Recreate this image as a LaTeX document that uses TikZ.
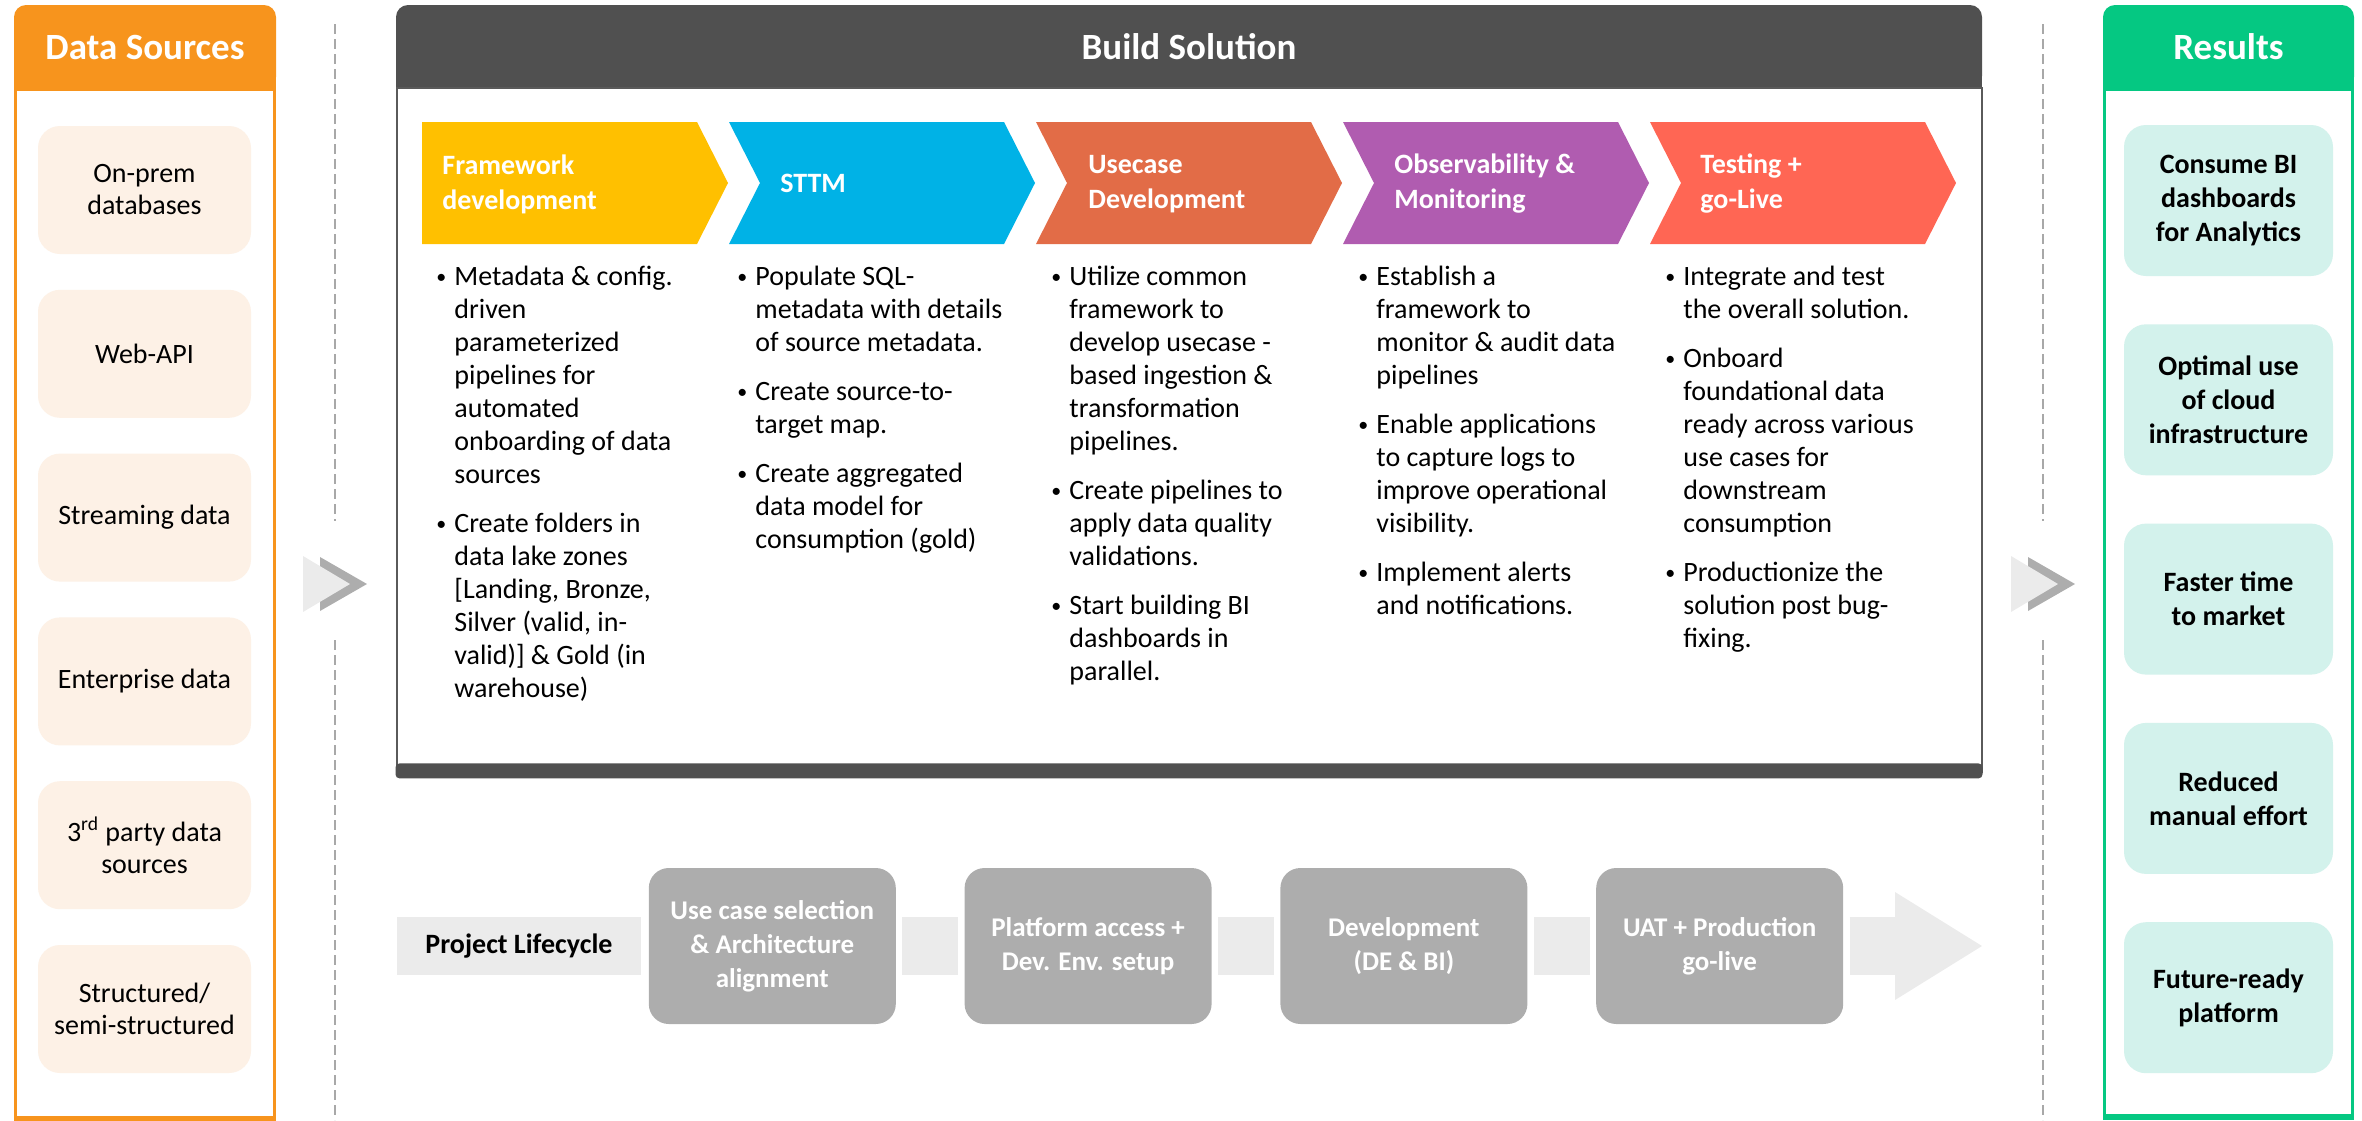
\documentclass[tikz,border=0pt]{standalone}
\usepackage{fontspec}
\setmainfont{Carlito}
\usetikzlibrary{positioning, arrows.meta, backgrounds}

\definecolor{dsorange}{HTML}{F7941D}
\definecolor{resgreen}{HTML}{05C882}
\definecolor{srcfill}{HTML}{FDF1E6}
\definecolor{resfill}{HTML}{D3F2EC}
\definecolor{hdgrey}{HTML}{505050}
\definecolor{framegrey}{HTML}{5A5A5A}
\definecolor{stepA}{HTML}{FFC000}
\definecolor{stepB}{HTML}{00B2E6}
\definecolor{stepC}{HTML}{E26C47}
\definecolor{stepD}{HTML}{B05CB0}
\definecolor{stepE}{HTML}{FF6654}
\definecolor{lifegrey}{HTML}{ADADAD}
\definecolor{lifebar}{HTML}{EBEBEB}
\definecolor{sepgrey}{HTML}{A8A8A8}

\newcommand{\bul}{\makebox[9pt][l]{\raisebox{0.6pt}{\fontsize{10pt}{10pt}\selectfont\textbullet}}}

\tikzset{
    panelhead/.style = {rectangle, rounded corners=6pt, text=white, inner sep=0pt, font=\fontsize{18.5pt}{21pt}\selectfont\bfseries},
    panelbody/.style = {rectangle, draw, fill=white, line width=1.5pt, inner sep=0pt},
    srcbox/.style = {rectangle, fill=srcfill, rounded corners=11pt, minimum width=106.5pt, minimum height=64pt, align=center, inner sep=0pt, font=\fontsize{14pt}{16pt}\selectfont},
    resbox/.style = {rectangle, fill=resfill, rounded corners=11pt, minimum width=104.5pt, minimum height=75.5pt, align=center, inner sep=0pt, font=\fontsize{14pt}{17pt}\selectfont\bfseries},
    sepline/.style = {draw=sepgrey, line width=1pt, dash pattern=on 5pt off 2.5pt}
}

\begin{document}
\begin{tikzpicture}[
        x=0.5pt, y=-0.5pt,
        % STYLES
        chevtitle/.style = {anchor=west, align=left, text=white, inner sep=0pt, font=\fontsize{14pt}{17.5pt}\selectfont\bfseries},
        bullets/.style = {anchor=base west, inner sep=0pt, font=\fontsize{14pt}{16.5pt}\selectfont},
        lifelabel/.style = {rectangle, fill=lifebar, minimum width=122pt, minimum height=29pt, inner sep=0pt, font=\fontsize{14pt}{17pt}\selectfont\bfseries},
        lifebox/.style = {rectangle, fill=lifegrey, rounded corners=10pt, minimum width=123.5pt, minimum height=78pt, align=center, text=white, inner sep=0pt, font=\fontsize{13.5pt}{17pt}\selectfont\bfseries},
        lifeline/.style = {draw=lifebar, line width=29pt},
        chevlight/.style = {fill=lifebar},
        chevdark/.style = {fill=lifegrey}
    ]
    \useasboundingbox (0,0) rectangle (2362,1120);

    % --- DATA SOURCES ---
    \node [panelhead, fill=dsorange, minimum width=131pt, minimum height=42pt] (dshead) at (145,47) {Data Sources};
    \begin{scope}[on background layer]
        \fill [dsorange] (dshead.west) rectangle (dshead.south east);
    \end{scope}
    \node [panelbody, draw=dsorange, minimum width=129.5pt, minimum height=514pt, below=-0.75pt of dshead] (dsbody) {};
    \draw [dsorange, line width=3pt] (dsbody.south west) -- (dsbody.south east);

    \node [srcbox] (src1) at (144.5,190) {On-prem\\databases};
    \node [srcbox, below=17.5pt of src1] (src2) {Web-API};
    \node [srcbox, below=17.5pt of src2] (src3) {Streaming data};
    \node [srcbox, below=17.5pt of src3] (src4) {Enterprise data};
    \node [srcbox, below=17.5pt of src4] (src5) {3\textsuperscript{rd} party data\\sources};
    \node [srcbox, below=17.5pt of src5] (src6) {Structured/\\semi-structured};

    % --- SEPARATORS ---
    \draw [sepline] (335,24) -- (335,521);
    \draw [sepline] (335,640) -- (335,1120);
    \draw [sepline] (2043,24) -- (2043,521);
    \draw [sepline] (2043,640) -- (2043,1120);
    \fill [chevdark] (320,557) -- (367,584) -- (320,611) -- cycle;
    \fill [chevlight] (303,556) -- (350,584) -- (303,612) -- cycle;
    \fill [chevdark] (2028,557) -- (2075,584) -- (2028,611) -- cycle;
    \fill [chevlight] (2011,556) -- (2058,584) -- (2011,612) -- cycle;

    % --- BUILD SOLUTION ---
    \node [panelhead, fill=hdgrey, minimum width=793pt, minimum height=41.5pt] (bshead) at (1189,46.5) {Build Solution};
    \begin{scope}[on background layer]
        \fill [hdgrey] (bshead.west) rectangle (bshead.south east);
    \end{scope}
    \node [panelbody, draw=framegrey, line width=1pt, minimum width=792.5pt, minimum height=342pt, below=-0.5pt of bshead] (bsbody) {};
    \fill [hdgrey, rounded corners=2pt] ([yshift=5pt]bsbody.south west) rectangle ([yshift=-2.5pt]bsbody.south east);

    % Step chevrons
    \fill [stepA] (422,122) -- (697,122) -- (728,183) -- (697,244) -- (422,244) -- cycle;
    \fill [stepB] (729,122) -- (1004,122) -- (1035,183) -- (1004,244) -- (729,244) -- (760,183) -- cycle;
    \fill [stepC] (1036,122) -- (1311,122) -- (1342,183) -- (1311,244) -- (1036,244) -- (1067,183) -- cycle;
    \fill [stepD] (1343,122) -- (1618,122) -- (1649,183) -- (1618,244) -- (1343,244) -- (1374,183) -- cycle;
    \fill [stepE] (1650,122) -- (1925,122) -- (1956,183) -- (1925,244) -- (1650,244) -- (1681,183) -- cycle;

    \node [chevtitle] (t1) at (442,184) {Framework\\development};
    \node [chevtitle] (t2) at (780,183) {STTM};
    \node [chevtitle] (t3) at (1088,184) {Usecase\\Development};
    \node [chevtitle] (t4) at (1394,184) {Observability \&\\Monitoring};
    \node [chevtitle] (t5) at (1700,184) {Testing +\\go-Live};

    % Step details
    \node [bullets] (b1) at (436,285) {\begin{tabular}[t]{@{}l@{}l@{}}
        \bul & Metadata \& config.\\ & driven\\ & parameterized\\ & pipelines for\\ & automated\\ & onboarding of data\\ & sources\\[8pt]
        \bul & Create folders in\\ & data lake zones\\ & [Landing, Bronze,\\ & Silver (valid, in-\\ & valid)] \& Gold (in\\ & warehouse)
        \end{tabular}};
    \node [bullets] (b2) at (737,285) {\begin{tabular}[t]{@{}l@{}l@{}}
        \bul & Populate SQL-\\ & metadata with details\\ & of source metadata.\\[8pt]
        \bul & Create source-to-\\ & target map.\\[8pt]
        \bul & Create aggregated\\ & data model for\\ & consumption (gold)
        \end{tabular}};
    \node [bullets] (b3) at (1051,285) {\begin{tabular}[t]{@{}l@{}l@{}}
        \bul & Utilize common\\ & framework to\\ & develop usecase -\\ & based ingestion \&\\ & transformation\\ & pipelines.\\[8pt]
        \bul & Create pipelines to\\ & apply data quality\\ & validations.\\[8pt]
        \bul & Start building BI\\ & dashboards in\\ & parallel.
        \end{tabular}};
    \node [bullets] (b4) at (1358,285) {\begin{tabular}[t]{@{}l@{}l@{}}
        \bul & Establish a\\ & framework to\\ & monitor \& audit data\\ & pipelines\\[8pt]
        \bul & Enable applications\\ & to capture logs to\\ & improve operational\\ & visibility.\\[8pt]
        \bul & Implement alerts\\ & and notifications.
        \end{tabular}};
    \node [bullets] (b5) at (1665,285) {\begin{tabular}[t]{@{}l@{}l@{}}
        \bul & Integrate and test\\ & the overall solution.\\[8pt]
        \bul & Onboard\\ & foundational data\\ & ready across various\\ & use cases for\\ & downstream\\ & consumption\\[8pt]
        \bul & Productionize the\\ & solution post bug-\\ & fixing.
        \end{tabular}};

    % --- PROJECT LIFECYCLE ---
    \node [lifelabel] (lc) at (519,946) {Project Lifecycle};
    \node [lifebox, right=3.5pt of lc] (lc1) {Use case selection\\\& Architecture\\alignment};
    \node [lifebox, right=34pt of lc1] (lc2) {Platform access +\\Dev. Env. setup};
    \node [lifebox, right=34pt of lc2] (lc3) {Development\\(DE \& BI)};
    \node [lifebox, right=34pt of lc3] (lc4) {UAT + Production\\go-live};
    \coordinate (lcend) at (1982,946);

    \begin{scope}[on background layer]
        \path [lifeline] ([xshift=3pt]lc1.east) -- ([xshift=-3pt]lc2.west);
        \path [lifeline] ([xshift=3pt]lc2.east) -- ([xshift=-3pt]lc3.west);
        \path [lifeline] ([xshift=3pt]lc3.east) -- ([xshift=-3pt]lc4.west);
        \path [lifeline, -{Triangle[length=43.5pt, width=54pt, line width=0pt]}] ([xshift=3pt]lc4.east) -- (lcend);
    \end{scope}

    % --- RESULTS ---
    \node [panelhead, fill=resgreen, minimum width=125.5pt, minimum height=42pt] (rshead) at (2228.5,47) {Results};
    \begin{scope}[on background layer]
        \fill [resgreen] (rshead.west) rectangle (rshead.south east);
    \end{scope}
    \node [panelbody, draw=resgreen, minimum width=124pt, minimum height=513pt, below=-0.75pt of rshead] (rsbody) {};
    \draw [resgreen, line width=3pt] (rsbody.south west) -- (rsbody.south east);

    \node [resbox] (res1) at (2228.5,200.5) {Consume BI\\dashboards\\for Analytics};
    \node [resbox, below=23.75pt of res1] (res2) {Optimal use\\of cloud\\infrastructure};
    \node [resbox, below=23.75pt of res2] (res3) {Faster time\\to market};
    \node [resbox, below=23.75pt of res3] (res4) {Reduced\\manual effort};
    \node [resbox, below=23.75pt of res4] (res5) {Future-ready\\platform};

\end{tikzpicture}
\end{document}
